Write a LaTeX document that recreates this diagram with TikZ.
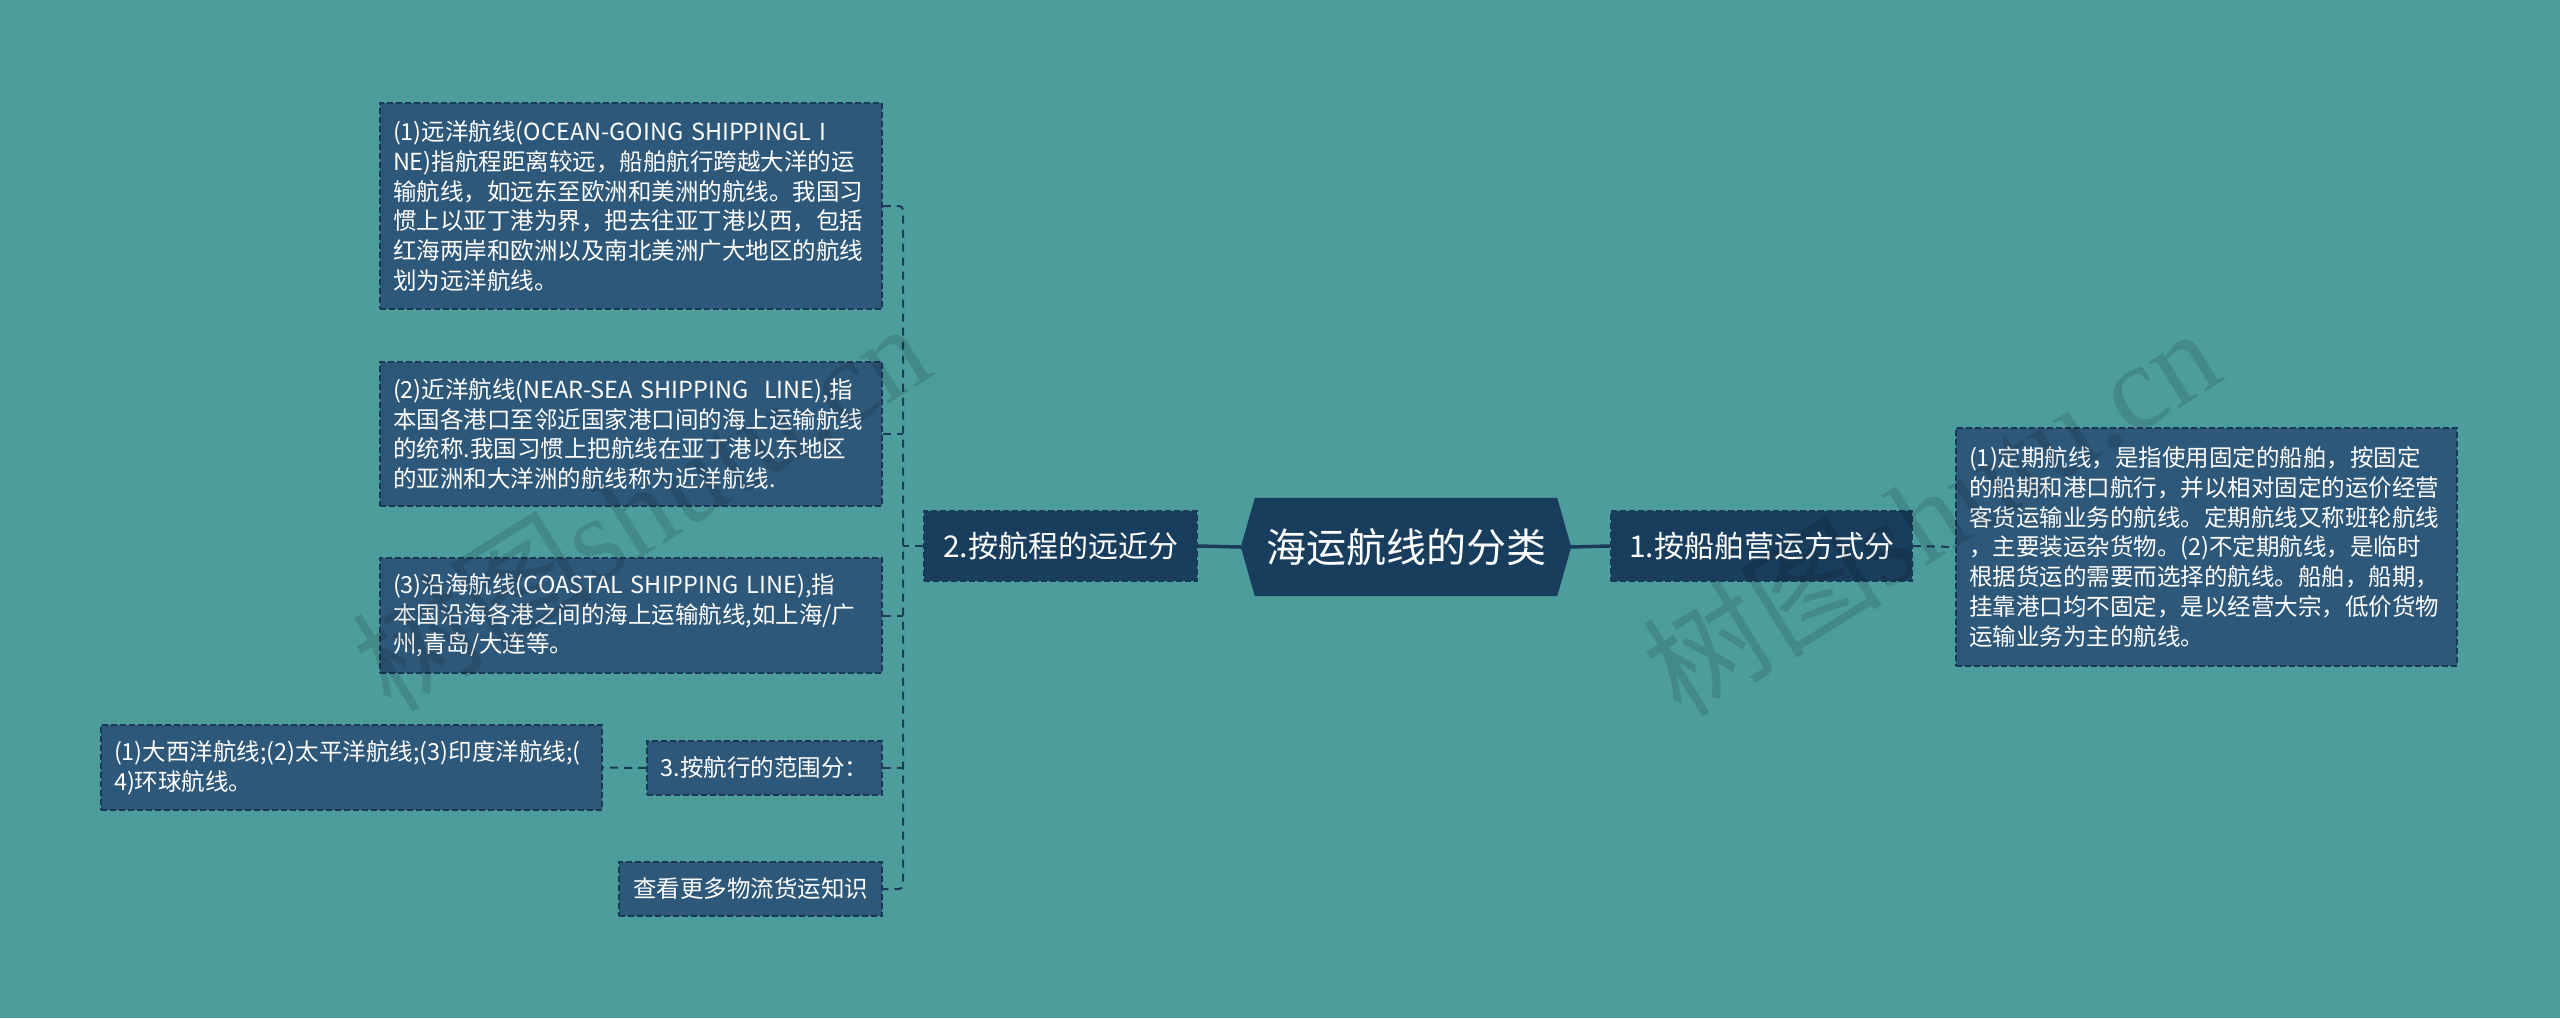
\documentclass[tikz,border=0pt]{standalone}
\usepackage{fontspec}
\newfontfamily\cjk{Noto Sans CJK SC}
\newfontfamily\wmfont{Liberation Serif}
\usetikzlibrary{backgrounds,calc}
\definecolor{bgc}{RGB}{77,157,157}
\definecolor{leafc}{RGB}{46,88,121}
\definecolor{mainc}{RGB}{24,61,93}
\definecolor{bdc}{RGB}{27,57,86}
\definecolor{linec}{RGB}{27,59,88}
\begin{document}
\begin{tikzpicture}[x=1pt,y=-1pt,
  leaf/.style={draw=bdc, fill=leafc, line width=1.6pt, dash pattern=on 6pt off 3pt,
    text=white, align=left, inner xsep=13pt, inner ysep=6pt,
    font=\cjk\fontsize{23.5}{29.7}\selectfont},
  wide/.style={text width=476pt},
  lvlone/.style={draw=bdc, fill=mainc, line width=1.6pt, dash pattern=on 6pt off 3pt,
    text=white, align=center, inner sep=4pt,
    font=\cjk\fontsize{30}{36}\selectfont},
  central/.style={text=white, inner sep=0pt, font=\cjk\fontsize{40}{48}\selectfont},
  conn/.style={draw=linec, line width=2pt, dash pattern=on 8pt off 6pt},
  mainconn/.style={draw=linec, line width=3.5pt},
  wm/.style={text=black, text opacity=0.12, rotate=32, inner sep=0pt}]
\begin{scope}[on background layer]
  \fill[bgc] (0,0) rectangle (2560,1018);
\end{scope}
\useasboundingbox (0,0) rectangle (2560,1018);

% central node
\node[central, minimum width=330pt, minimum height=98pt] (C) at (1406,547) {海运航线的分类};
\begin{scope}[on background layer]
  \fill[mainc] (C.west) -- ($(C.north west)+(14,0)$) -- ($(C.north east)+(-14,0)$)
    -- (C.east) -- ($(C.south east)+(-14,0)$) -- ($(C.south west)+(14,0)$) -- cycle;
\end{scope}

% level one
\node[lvlone, minimum width=273pt, minimum height=70pt] (L2) at (1060.5,546) {2.按航程的远近分};
\node[lvlone, minimum width=301pt, minimum height=70pt] (L1) at (1761.5,546) {1.按船舶营运方式分};

% right leaf
\node[leaf, text width=475pt, minimum height=238pt] (R) at (2206.5,547) {(1)定期航线，是指使用固定的船舶，按固定\\
的船期和港口航行，并以相对固定的运价经营\\
客货运输业务的航线。定期航线又称班轮航线\\
，主要装运杂货物。(2)不定期航线，是临时\\
根据货运的需要而选择的航线。船舶，船期，\\
挂靠港口均不固定，是以经营大宗，低价货物\\
运输业务为主的航线。};

% left leaves
\node[leaf, wide, minimum height=206pt] (B1) at (631,206) {(1)远洋航线(OCEAN-GOING SHIPPINGL I\\
NE)指航程距离较远，船舶航行跨越大洋的运\\
输航线，如远东至欧洲和美洲的航线。我国习\\
惯上以亚丁港为界，把去往亚丁港以西，包括\\
红海两岸和欧洲以及南北美洲广大地区的航线\\
划为远洋航线。};
\node[leaf, wide, minimum height=144pt] (B2) at (631,434) {(2)近洋航线(NEAR-SEA SHIPPING~~LINE),指\\
本国各港口至邻近国家港口间的海上运输航线\\
的统称.我国习惯上把航线在亚丁港以东地区\\
的亚洲和大洋洲的航线称为近洋航线.};
\node[leaf, wide, minimum height=115pt] (B3) at (631,615.5) {(3)沿海航线(COASTAL SHIPPING LINE),指\\
本国沿海各港之间的海上运输航线,如上海/广\\
州,青岛/大连等。};
\node[leaf, minimum width=235pt, minimum height=54pt, align=center] (B4) at (764.5,768) {3.按航行的范围分：};
\node[leaf, text width=475pt, minimum height=85pt] (B4a) at (351.5,767.5) {(1)大西洋航线;(2)太平洋航线;(3)印度洋航线;(\\
4)环球航线。};
\node[leaf, minimum width=263pt, minimum height=54pt, align=center] (B5) at (750.5,889) {查看更多物流货运知识};

% connectors
\draw[mainconn] (C.west) -- (L2.east);
\draw[mainconn] (C.east) -- (L1.west);
\draw[conn] (L1.east) -- (R.west);
\coordinate (bus) at (903,546);
\draw[conn, rounded corners=4pt] (B1.east) -| (bus) |- (B5.east);
\draw[conn] (L2.west) -- (bus);
\draw[conn] (B2.east) -- (B2.east -| bus);
\draw[conn] (B3.east) -- (B3.east -| bus);
\draw[conn] (B4.east) -- (B4.east -| bus);
\draw[conn] (B4.west) -- (B4a.east);

% watermarks
\node[wm] (wm1) at (640,505) {\cjk\fontsize{120}{120}\selectfont 树图\wmfont shutu.cn};
\node[wm] (wm2) at (1930,510) {\cjk\fontsize{120}{120}\selectfont 树图\wmfont shutu.cn};
\end{tikzpicture}
\end{document}
